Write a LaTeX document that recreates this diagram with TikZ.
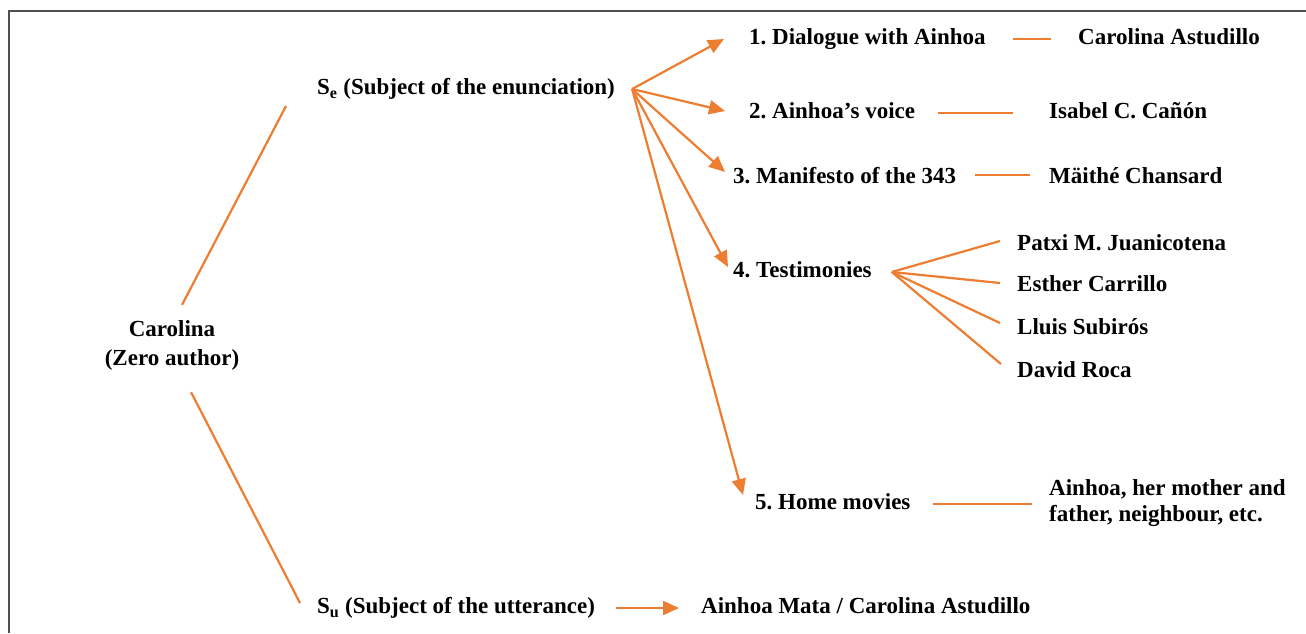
\documentclass[tikz,border=0pt]{standalone}
\usepackage{fontspec}
\setmainfont{Liberation Serif}
\usepackage{tikz}
\usetikzlibrary{positioning,arrows.meta}
\definecolor{colorline} {RGB}{237,125,49}
\definecolor{colorframe}{RGB}{80,80,80}
\frenchspacing

\begin{document}
\begin{tikzpicture}[
    x=1pt, y=-1pt,
    font={\fontsize{23}{29}\selectfont\bfseries},
    label/.style={anchor=west,inner sep=0pt,text height=16pt,text depth=5pt},
    block/.style={inner sep=0pt,align=center},
    link/.style={draw=colorline,line width=2.2pt},
    arrow/.style={link,-{Triangle[length=16pt,width=14pt]}},
]
    \useasboundingbox (0,0) rectangle (1306,633);
    \draw[colorframe,line width=1.2pt] (9,633) -- (9,11) -- (1306,11);

    % Subjects
    \node[block] (carolina) at (172,345) {Carolina\\(Zero author)};
    \node[label] (se) at (317,89) {S\textsubscript{e} (Subject of the enunciation)};
    \node[label] (su) at (317,608) {S\textsubscript{u} (Subject of the utterance)};
    \node[label] (mata) at (701,608) {Ainhoa Mata / Carolina Astudillo};

    % Sequences
    \node[label] (dialogue)  at (749,39)  {1. Dialogue with Ainhoa};
    \node[label] (voice)     at (749,113) {2. Ainhoa’s voice};
    \node[label] (manifesto) at (733,178) {3. Manifesto of the 343};
    \node[label] (testimony) at (733,272) {4. Testimonies};
    \node[label] (movies)    at (755,504) {5. Home movies};

    % Voices
    \node[label] (astudillo) at (1078,39)  {Carolina Astudillo};
    \node[label] (canon)     at (1049,113) {Isabel C. Cañón};
    \node[label] (chansard)  at (1049,178) {Mäithé Chansard};
    \node[label] (patxi)     at (1017,245) {Patxi M. Juanicotena};
    \node[label] (esther)    at (1017,286) {Esther Carrillo};
    \node[label] (lluis)     at (1017,329) {Lluis Subirós};
    \node[label] (david)     at (1017,372) {David Roca};
    \node[block,anchor=west,align=left,font={\fontsize{23}{26}\selectfont\bfseries}] (family) at (1049,503) {Ainhoa, her mother and\\father, neighbour, etc.};

    % Hubs
    \coordinate (sehub) at ([xshift=17pt]se.east);
    \coordinate (tehub) at ([xshift=20pt]testimony.east);

    % Relations
    \draw[link] ([xshift=10pt,yshift=15pt]carolina.north) -- ([xshift=-31pt,yshift=-17pt]se.west);
    \draw[link] ([xshift=19pt,yshift=-22pt]carolina.south) -- ([xshift=-17pt,yshift=5pt]su.west);
    \draw[arrow,shorten <=21pt,shorten >=22pt] (su.east) -- (mata.west);

    \draw[arrow] (sehub) -- ([xshift=-25pt]dialogue.west);
    \draw[arrow] (sehub) -- ([xshift=-24pt,yshift=2pt]voice.west);
    \draw[arrow] (sehub) -- ([xshift=-8pt,yshift=6pt]manifesto.west);
    \draw[arrow] (sehub) -- ([xshift=-5pt,yshift=5pt]testimony.west);
    \draw[arrow] (sehub) -- ([xshift=-12pt,yshift=9pt]movies.west);

    \draw[link,shorten <=27pt,shorten >=27pt] (dialogue.east) -- (astudillo.west);
    \draw[link,shorten <=23pt,shorten >=36pt] (voice.east) -- (canon.west);
    \draw[link,shorten <=19pt,shorten >=19pt] ([yshift=3pt]manifesto.east) -- ([yshift=3pt]chansard.west);
    \draw[link,shorten <=22pt,shorten >=17pt] (movies.east) -- (movies.east -| family.west);

    \draw[link] (tehub) -- ([xshift=-17pt,yshift=4pt]patxi.west);
    \draw[link] (tehub) -- ([xshift=-17pt,yshift=3pt]esther.west);
    \draw[link] (tehub) -- ([xshift=-17pt,yshift=6pt]lluis.west);
    \draw[link] (tehub) -- ([xshift=-16pt,yshift=8pt]david.west);

\end{tikzpicture}
\end{document}
